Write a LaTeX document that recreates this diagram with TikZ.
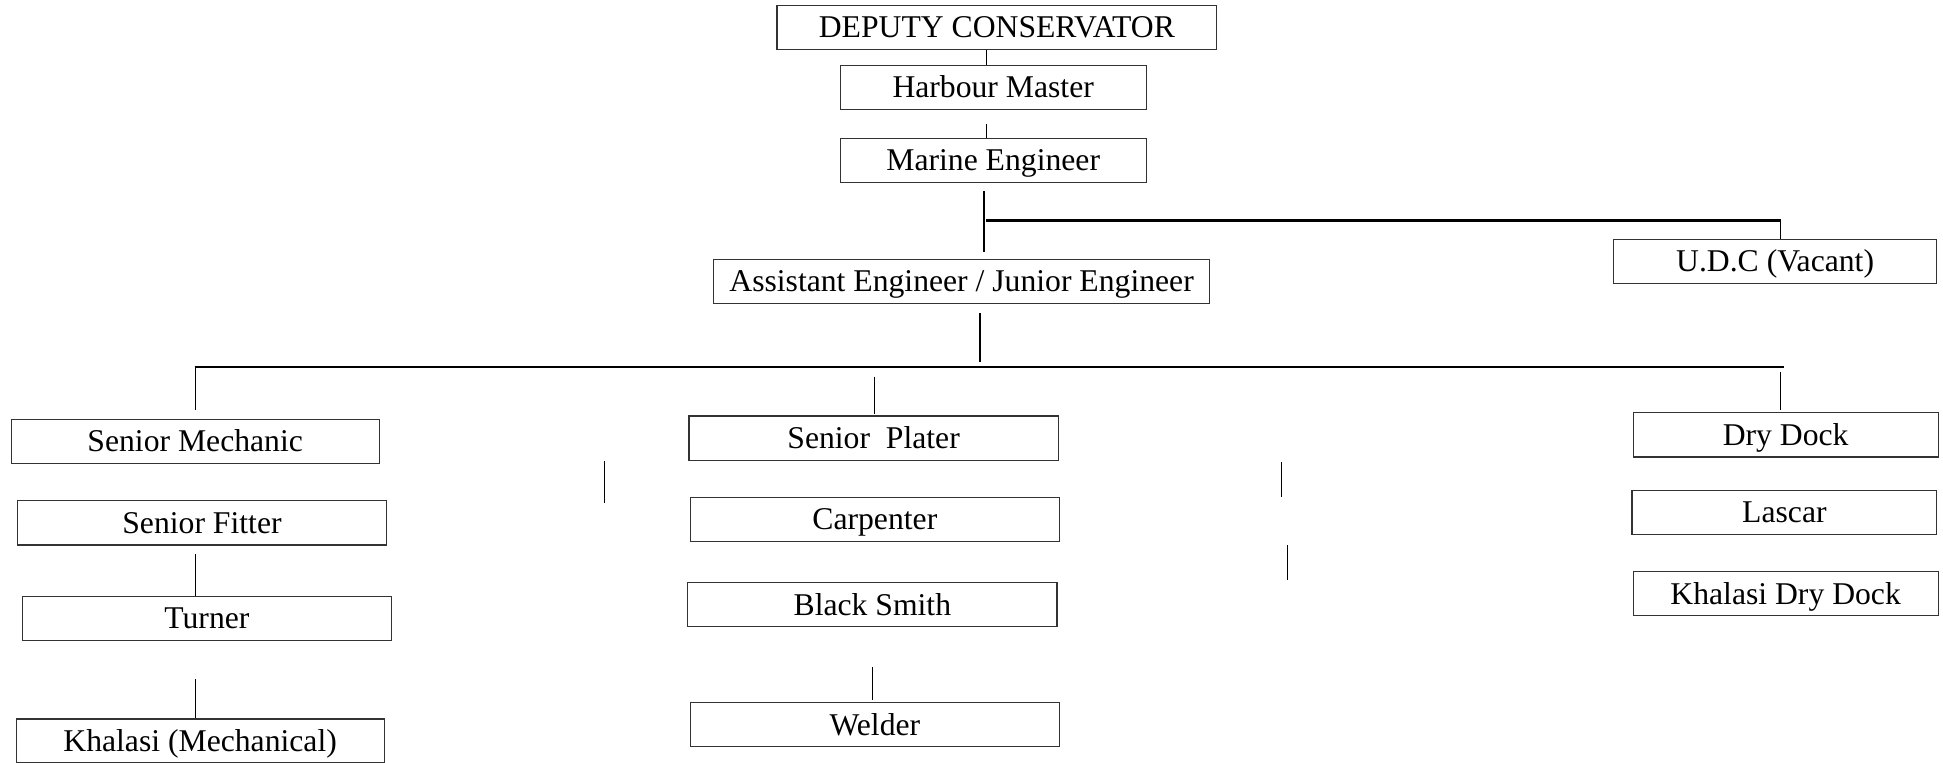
\documentclass[tikz,border=0pt]{standalone}
\usepackage{fontspec}
\setmainfont{Liberation Serif}
\tikzset{
  post/.style={draw=black!80, line width=0.4pt, inner sep=0pt, minimum height=16pt,
    text height=7.6pt, text depth=0pt, font=\fontsize{11.5}{13}\selectfont},
  link/.style={black, line width=0.45pt},
  bar/.style={black, line width=0.8pt}
}
\begin{document}
\begin{tikzpicture}[x=0.45pt, y=-0.45pt]
\useasboundingbox (0,0) rectangle (1568,615);

\node[post, minimum width=355*0.45pt] (dc) at (804.5,22) {DEPUTY CONSERVATOR};
\node[post, minimum width=247*0.45pt] (hm) at (801.5,70.5) {Harbour Master};
\node[post, minimum width=247*0.45pt] (me) at (801.5,129.5) {Marine Engineer};
\node[post, minimum width=400*0.45pt] (ae) at (776,227) {Assistant Engineer / Junior Engineer};
\node[post, minimum width=261*0.45pt] (udc) at (1432.5,211) {U.D.C (Vacant)};

\node[post, minimum width=297*0.45pt] (smech) at (157.5,356) {Senior Mechanic};
\node[post, minimum width=298*0.45pt] (sfit) at (163,422) {Senior Fitter};
\node[post, minimum width=298*0.45pt] (turn) at (167,499) {Turner};
\node[post, minimum width=297*0.45pt] (khm) at (161.5,598) {Khalasi (Mechanical)};

\node[post, minimum width=298*0.45pt] (splt) at (705,353.5) {Senior\ \ Plater};
\node[post, minimum width=298*0.45pt] (carp) at (706,419) {Carpenter};
\node[post, minimum width=298*0.45pt] (bsm) at (704,488) {Black Smith};
\node[post, minimum width=298*0.45pt] (weld) at (706,585) {Welder};

\node[post, minimum width=246*0.45pt] (dry) at (1441,351) {Dry Dock};
\node[post, minimum width=246*0.45pt] (lasc) at (1440,413.5) {Lascar};
\node[post, minimum width=246*0.45pt] (khd) at (1441,479) {Khalasi Dry Dock};

\coordinate (a1) at (796,100);
\coordinate (a2) at (794,154);
\coordinate (a3) at (794,203);
\coordinate (a4) at (796,178);
\coordinate (a5) at (1437,178);
\coordinate (b1) at (791,253);
\coordinate (b2) at (791,292);
\coordinate (bl) at (157,296);
\coordinate (br) at (1440,296);
\coordinate (m1) at (158,296);
\coordinate (m2) at (158,331);
\coordinate (p1) at (706,304);
\coordinate (p2) at (706,334);
\coordinate (d1) at (1437,300);
\coordinate (d2) at (1437,331);
\coordinate (f1) at (158,447);
\coordinate (k1) at (158,548);
\coordinate (w1) at (704,538);
\coordinate (w2) at (704,565);
\coordinate (g1) at (488,372);
\coordinate (g2) at (488,406);
\coordinate (h1) at (1034,373);
\coordinate (h2) at (1034,401);
\coordinate (h3) at (1039,440);
\coordinate (h4) at (1039,468);

\draw[link] (a1 |- dc.south) -- (a1 |- hm.north);
\draw[link] (a1) -- (a1 |- me.north);
\draw[bar] (a2) -- (a3);
\draw[bar] (a4) -- (a5);
\draw[link] (a5) -- (a5 |- udc.north);
\draw[bar] (b1) -- (b2);
\draw[bar] (bl) -- (br);
\draw[link] (m1) -- (m2);
\draw[link] (p1) -- (p2);
\draw[link] (d1) -- (d2);
\draw[link] (f1) -- (f1 |- turn.north);
\draw[link] (k1) -- (k1 |- khm.north);
\draw[link] (w1) -- (w2);
\draw[link] (g1) -- (g2);
\draw[link] (h1) -- (h2);
\draw[link] (h3) -- (h4);
\end{tikzpicture}
\end{document}
